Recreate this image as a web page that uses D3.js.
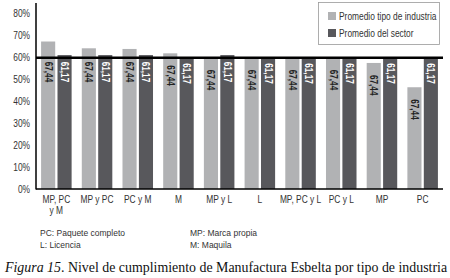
<!DOCTYPE html>
<html lang="es">
<head>
    <title>Figura 15</title>
    <script src='https://d3js.org/d3.v7.min.js'></script>
    <style>
        body { margin: 0; background: #fff; }
        text { font-family: "Liberation Sans", Arial, sans-serif; }
    </style>
</head>
<body>
<script>

// categories (x axis), the two series and their printed labels
var categories = ["MP, PC y M", "MP y PC", "PC y M", "M", "MP y L", "L", "MP, PC y L", "PC y L", "MP", "PC"];
var catLines   = [["MP, PC", "y M"], ["MP y PC"], ["PC y M"], ["M"], ["MP y L"], ["L"], ["MP, PC y L"], ["PC y L"], ["MP"], ["PC"]];
var industria  = [67.4, 64.3, 64.0, 62.0, 60.0, 60.0, 60.0, 60.0, 57.6, 46.5];
var sector     = [61.2, 61.2, 61.2, 60.2, 61.2, 60.2, 60.2, 60.2, 60.2, 60.2];
var industriaLabel = "67,44";
var sectorLabel    = "61,17";
var yTicks = [0, 10, 20, 30, 40, 50, 60, 70, 80];
var refLine = 60;
var seriesNames = ["Promedio tipo de industria", "Promedio del sector"];
var notes = [["PC: Paquete completo", "L: Licencia"], ["MP: Marca propia", "M: Maquila"]];

const W = 450, H = 278;
const mLeft = 36, mRight = 443, mTop = 3, mBottom = 189;
const colors = ["#b1b2b4", "#58585c"];
const narrow = 0.84; // the chart text is a condensed face

const svg = d3.select("body").append("svg")
    .attr("width", W).attr("height", H);

const y = d3.scaleLinear().domain([0, 85]).range([mBottom, mTop]);
const x0 = d3.scaleBand().domain(categories).range([mLeft, mRight])
    .paddingInner(0.25).paddingOuter(0.125);
const x1 = d3.scaleBand().domain([0, 1]).range([0, x0.bandwidth()]).paddingInner(0.14);

// rows: one per category with both values
var rows = categories.map(function(c, i) {
    return { cat: c, vals: [industria[i], sector[i]] };
});

var groups = svg.selectAll("g.grp").data(rows).enter().append("g")
    .attr("class", "grp")
    .attr("transform", function(d) { return "translate(" + x0(d.cat) + ",0)"; });

groups.selectAll("rect").data(function(d) { return d.vals; }).enter().append("rect")
    .attr("x", function(d, i) { return x1(i); })
    .attr("y", function(d) { return y(d); })
    .attr("width", x1.bandwidth())
    .attr("height", function(d) { return y(0) - y(d); })
    .attr("fill", function(d, i) { return colors[i]; });

// reference line at 60%
svg.append("line")
    .attr("x1", mLeft).attr("x2", mRight)
    .attr("y1", y(refLine)).attr("y2", y(refLine))
    .attr("stroke", "#000").attr("stroke-width", 2.6);

// rotated value labels inside the bars
var offs = [12, 6];
groups.selectAll("text.val").data(function(d) { return d.vals; }).enter().append("text")
    .attr("class", "val")
    .attr("transform", function(d, i) {
        var ty = Math.max(y(d) + offs[i], y(refLine) + 4);
        return "translate(" + (x1(i) + x1.bandwidth() / 2) + "," + ty + ") rotate(90) scale(0.82,1)";
    })
    .attr("dy", "0.35em")
    .attr("font-size", 10)
    .attr("font-weight", "bold")
    .attr("fill", function(d, i) { return i === 0 ? "#222" : "#fff"; })
    .text(function(d, i) { return i === 0 ? industriaLabel : sectorLabel; });

// axes
svg.append("line").attr("x1", mLeft).attr("x2", mLeft).attr("y1", mTop).attr("y2", mBottom + 0.5)
    .attr("stroke", "#000").attr("stroke-width", 1.5);
svg.append("line").attr("x1", mLeft).attr("x2", mRight).attr("y1", mBottom).attr("y2", mBottom)
    .attr("stroke", "#000").attr("stroke-width", 1.5);

svg.selectAll("text.ytick").data(yTicks).enter().append("text")
    .attr("class", "ytick")
    .attr("transform", function(d) { return "translate(30," + y(d) + ") scale(" + narrow + ",1)"; })
    .attr("dy", "0.35em")
    .attr("text-anchor", "end")
    .attr("font-size", 10).attr("fill", "#333")
    .text(function(d) { return d + "%"; });

svg.selectAll("text.xlab").data(categories).enter().append("text")
    .attr("class", "xlab")
    .attr("text-anchor", "middle")
    .attr("font-size", 10).attr("fill", "#333")
    .attr("transform", function(d) { return "translate(" + (x0(d) + x0.bandwidth() / 2) + "," + 203 + ") scale(" + narrow + ",1)"; })
    .each(function(d, i) {
        d3.select(this).selectAll("tspan").data(catLines[i]).enter().append("tspan")
            .attr("x", 0).attr("dy", function(t, j) { return j === 0 ? 0 : 11; })
            .text(function(t) { return t; });
    });

// legend
var lg = svg.append("g").attr("transform", "translate(318,2)");
lg.append("rect").attr("x", 0.5).attr("y", 0.5).attr("width", 121).attr("height", 42)
    .attr("fill", "#fff").attr("stroke", "#999").attr("stroke-width", 0.8);
seriesNames.forEach(function(s, i) {
    lg.append("rect").attr("x", 10).attr("y", 10 + i * 17).attr("width", 8).attr("height", 8)
        .attr("fill", colors[i]);
    lg.append("text").attr("transform", "translate(21," + (14 + i * 17) + ") scale(" + narrow + ",1)")
        .attr("dy", "0.35em")
        .attr("font-size", 10).attr("fill", "#333").text(s);
});

// notes under chart
notes.forEach(function(col, c) {
    col.forEach(function(t, r) {
        svg.append("text")
            .attr("x", c === 0 ? 40 : 190).attr("y", 236 + r * 11.5)
            .attr("font-size", 8.5).attr("fill", "#333").text(t);
    });
});

// caption
var cap = svg.append("text").attr("x", 5).attr("y", 272)
    .style("font-family", "'Liberation Serif', 'Times New Roman', serif")
    .attr("font-size", 13.9).attr("fill", "#111");
cap.append("tspan").attr("font-style", "italic").text("Figura 15");
cap.append("tspan").text(". Nivel de cumplimiento de Manufactura Esbelta por tipo de industria");

</script>
</body>
</html>
